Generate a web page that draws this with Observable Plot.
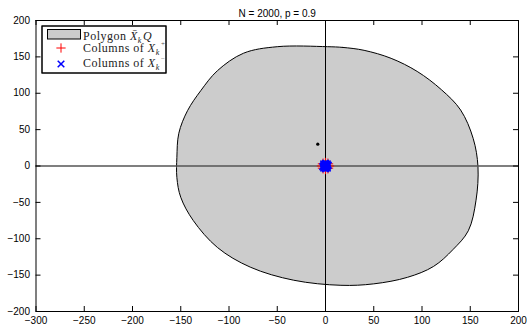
<!DOCTYPE html>
<html><head><meta charset="utf-8">
<script src="https://cdn.jsdelivr.net/npm/d3@7"></script>
<script src="https://cdn.jsdelivr.net/npm/@observablehq/plot@0.6"></script>
<style>body{margin:0;background:#fff} #c{position:relative;width:527px;height:330px}</style>
</head><body><div id="c"></div>
<script>
const title = "N = 2000, p = 0.9";
const xTicks = [-300, -250, -200, -150, -100, -50, 0, 50, 100, 150, 200];
const yTicks = [-200, -150, -100, -50, 0, 50, 100, 150, 200];
// polygon outline (clockwise from top)
const polyX = [2, 18, 40, 68, 95, 120, 140, 153, 158, 156, 148, 132, 112, 85, 50, 16, -33, -78, -112, -137, -150, -154, -154, -152, -143, -129, -112, -85, -50];
const polyY = [164, 163, 159, 148, 130, 105, 77, 38, -1, -47, -89, -115, -138, -153, -162, -164, -157, -139, -112, -75, -43, -16, 12, 45, 76, 104, 131, 155, 164];
// columns of X_k (red +) and of X~_k (blue x), clustered at origin
const redX = [-3.5, 3.5, 0, 0, -2.5, 2.5, 2.5, -2.5];
const redY = [0, 0, 4, -4, 3, -3, 3, -3];
const blueX = [0, 1, -1, 1, -1, 2, -2, 0, 0, 1.5, -1.5, 1.5, -1.5, 2.5, -2.5, 0, 0, 2, -2, 2, -2, 3, -3, 0, 0];
const blueY = [0, 1, 1, -1, -1, 0, 0, 2, -2, 2, 2, -2, -2, 0, 0, 3, -3, 3, 3, -3, -3, 1, -1, 4, -4];
const centX = [-8];
const centY = [30];

const W = 527, H = 330, mL = 35.5, mR = 9, mT = 20, mB = 19;
const fw = W - mL - mR, fh = H - mT - mB;
const poly = polyX.map((x, i) => ({x, y: polyY[i]}));
const red = redX.map((x, i) => ({x, y: redY[i]}));
const blue = blueX.map((x, i) => ({x, y: blueY[i]}));
const cent = centX.map((x, i) => ({x, y: centY[i]}));

const chart = Plot.plot({
  width: W, height: H,
  marginLeft: mL, marginRight: mR, marginTop: mT, marginBottom: mB,
  x: {domain: [-300, 200], label: null},
  y: {domain: [-200, 200], label: null},
  style: {fontFamily: "'Liberation Sans', Arial, sans-serif", fontSize: "10px", background: "#fff", color: "#000"},
  marks: [
    Plot.line(poly, {x: "x", y: "y", curve: "catmull-rom-closed", fill: "#cccccc", stroke: "#000", strokeWidth: 1}),
    Plot.ruleY([0], {stroke: "#555", strokeWidth: 1.5}),
    Plot.ruleX([0], {stroke: "#000", strokeWidth: 1}),
    Plot.dot(red, {x: "x", y: "y", symbol: "plus", stroke: "#ff0000", r: 3.5, strokeWidth: 1}),
    Plot.dot(blue, {x: "x", y: "y", symbol: "times", stroke: "#0000ff", r: 3, strokeWidth: 1.5}),
    Plot.dot(cent, {x: "x", y: "y", r: 1.6, fill: "#000", stroke: null}),
    Plot.tickX(xTicks, {x: d => d, insetTop: fh - 5, stroke: "#000"}),
    Plot.tickX(xTicks, {x: d => d, insetBottom: fh - 5, stroke: "#000"}),
    Plot.tickY(yTicks, {y: d => d, insetRight: fw - 5, stroke: "#000"}),
    Plot.tickY(yTicks, {y: d => d, insetLeft: fw - 5, stroke: "#000"}),
    Plot.frame({stroke: "#000"}),
    Plot.axisX({ticks: xTicks, tickSize: 0, tickPadding: 5, fontSize: 10, label: null}),
    Plot.axisY({ticks: yTicks, tickSize: 0, tickPadding: 6, fontSize: 10, label: null}),
    Plot.text([title], {frameAnchor: "top", dy: -10.5, fontSize: 10})
  ]
});
document.getElementById("c").appendChild(chart);

// legend
const svg = d3.select(chart);
const g = svg.append("g").attr("font-family", "'Liberation Serif', 'DejaVu Serif', serif").attr("font-size", 12).attr("text-anchor", "start");
g.append("rect").attr("x", 42).attr("y", 26).attr("width", 124).attr("height", 47)
  .attr("fill", "#fff").attr("stroke", "#000");
g.append("rect").attr("x", 47.5).attr("y", 29.5).attr("width", 33).attr("height", 9.5)
  .attr("fill", "#cccccc").attr("stroke", "#000");
const rows = [
  {y: 39.5, pre: "Polygon ", x: "X\u0304", post: "Q"},
  {y: 52, pre: "Columns of ", x: "X", post: ""},
  {y: 67, pre: "Columns of ", x: "X", post: ""}
];
rows.forEach(r => {
  const t = g.append("text").attr("x", 83).attr("y", r.y).attr("letter-spacing", 0.5).attr("fill", "#222").attr("text-anchor", "start");
  t.append("tspan").text(r.pre);
  t.append("tspan").attr("font-style", "italic").text(r.x);
  t.append("tspan").attr("font-style", "italic").attr("font-size", 8).attr("dy", 3).text("k");
  if (r.post) t.append("tspan").attr("font-style", "italic").attr("dy", -3).attr("dx", 1).text(r.post);
});
// superscripts (partly clipped by box edge)
g.append("text").attr("x", 161).attr("y", 46).attr("font-size", 7).attr("fill", "#555").attr("text-anchor", "start").text("+");
g.append("text").attr("x", 161).attr("y", 61).attr("font-size", 7).attr("fill", "#555").attr("text-anchor", "start").text("\u2212");
g.append("rect").attr("x", 42).attr("y", 26).attr("width", 124).attr("height", 47)
  .attr("fill", "none").attr("stroke", "#000");
const sym = svg.append("g");
sym.append("path").attr("d", d3.symbol(d3.symbolPlus, 30)()).attr("transform", "translate(61,48)")
  .attr("fill", "none").attr("stroke", "#ff0000");
sym.append("path").attr("d", d3.symbol(d3.symbolTimes, 30)()).attr("transform", "translate(61,64)")
  .attr("fill", "none").attr("stroke", "#0000ff").attr("stroke-width", 1.5);
</script></body></html>
